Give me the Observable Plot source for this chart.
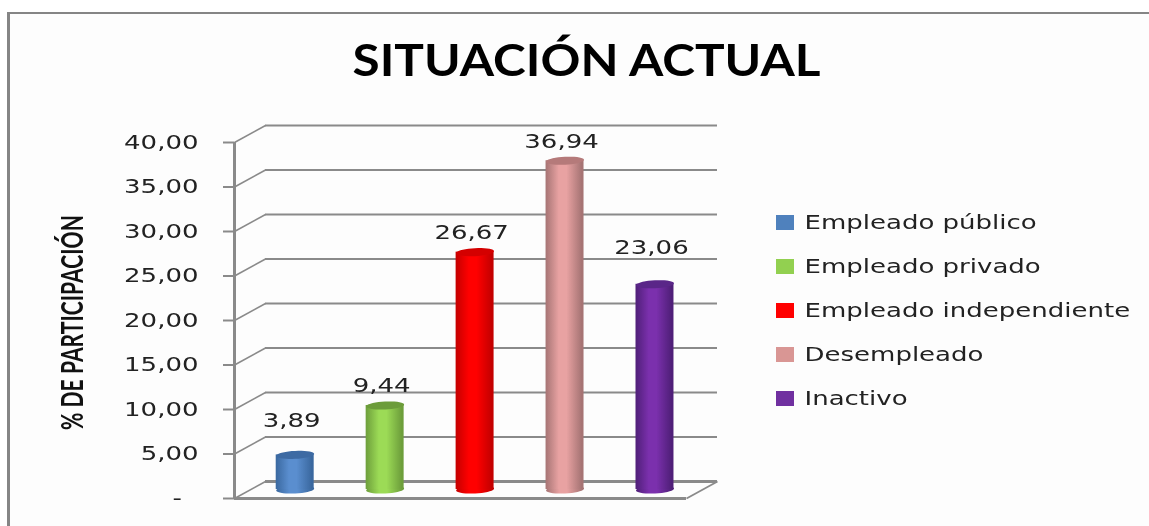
<!DOCTYPE html>
<html><head><meta charset="utf-8">
<script src="https://cdn.jsdelivr.net/npm/d3@7"></script>
<script src="https://cdn.jsdelivr.net/npm/@observablehq/plot@0.6"></script>
<style>
html,body{margin:0;padding:0;background:#fff;overflow:hidden}
#wrap{position:relative;width:1149px;height:526px;filter:blur(0.45px)}
#border{position:absolute;left:7px;top:12px;right:-5px;bottom:-5px;border-left:3px solid #858585;border-top:2px solid #858585;background:#fdfdfd}
#wrap svg{position:absolute;background:transparent}
</style></head><body><div id="wrap"><div id="border"></div></div>
<script>
const categories = ["Empleado público","Empleado privado","Empleado independiente","Desempleado","Inactivo"];
const values = [3.89,9.44,26.67,36.94,23.06];
const valueLabels = ["3,89","9,44","26,67","36,94","23,06"];
const labelLift = [3.8,2.2,2.2,2.2,4.1];
const yTicks = [0,5,10,15,20,25,30,35,40];
const legendColors = ["#4f81bd","#92d050","#ff0000","#d99694","#7030a0"];
const edgeColors = ["#3a689f","#6d9e3b","#c40000","#a67474","#4f1f78"];
const midColors = ["#5a8ecf","#9cdb56","#ff0000","#e8a2a2","#7b30ad"];
const capColors = ["#3d6aa3","#6c9c3a","#d40000","#b57a7a","#5a2688"];
const title = "SITUACIÓN ACTUAL";
const yLabel = "% DE PARTICIPACIÓN";

const rows = categories.map((c,i)=>({c,i,v:values[i],label:valueLabels[i],lift:labelLift[i]}));
const gradIds = categories.map((_,i)=>`url(#cyl${i})`);
const depthX = 31/90.4, depthY = 17/8.9;   // depth of the 3D box in scale units
const halfW = 0.21, step = 0.995;
const gray = "#8a8a8a";

// flattened, slightly tilted ellipse used as a dot symbol for cylinder ends
const ellipse = {draw(ctx,size){
  const rx=Math.sqrt(size/Math.PI), ry=4, t=-3*Math.PI/180;
  for(let k=0;k<=36;k++){
    const a=k/36*2*Math.PI, ex=rx*Math.cos(a), ey=ry*Math.sin(a);
    const px=ex*Math.cos(t)-ey*Math.sin(t), py=ex*Math.sin(t)+ey*Math.cos(t);
    k?ctx.lineTo(px,py):ctx.moveTo(px,py);
  }
  ctx.closePath();
}};
const defs = () => {
  const d=d3.create("svg:defs");
  categories.forEach((_,i)=>{
    const g=d.append("linearGradient").attr("id",`cyl${i}`).attr("x1",0).attr("x2",1).attr("y1",0).attr("y2",0);
    [[0,edgeColors[i]],[.35,midColors[i]],[.55,midColors[i]],[.95,edgeColors[i]],[1,edgeColors[i]]]
      .forEach(([o,c])=>g.append("stop").attr("offset",o).attr("stop-color",c));
  });
  return d.node();
};
const font='"DejaVu Sans"';
const cx = d => d.i*step+.5;
const chart = Plot.plot({
  width:1149,height:526,marginLeft:234,marginRight:463,marginTop:142,marginBottom:28,
  style:{background:"transparent"},
  x:{type:"linear",domain:[0,5],axis:null},
  y:{type:"linear",domain:[0,40],axis:null},
  color:{domain:categories,range:gradIds},
  marks:[
    defs,
    Plot.ruleY(yTicks,{y:d=>d,dx:31,dy:-17,stroke:gray,strokeWidth:d=>d===0?3:2}),
    Plot.link(yTicks,{x1:()=>0,y1:d=>d,x2:()=>depthX,y2:d=>d+depthY,stroke:gray,strokeWidth:1.6}),
    Plot.link([0],{x1:()=>5,y1:d=>d,x2:()=>5+depthX,y2:d=>d+depthY,stroke:gray,strokeWidth:1.8}),
    Plot.ruleX([0],{y1:0,y2:40,stroke:gray,strokeWidth:3}),
    Plot.ruleY([0],{stroke:gray,strokeWidth:3}),
    Plot.axisY({ticks:yTicks,tickSize:11,tickPadding:25,stroke:gray,strokeWidth:2,fontSize:20,fontFamily:font,fill:"#222",label:null,
      tickFormat:d=>d===0?"-\u00a0\u00a0":d3.format(".2f")(d).replace(".",",")}),
    Plot.dot(rows,{x:cx,y:0,symbol:ellipse,r:19,dx:15.5,dy:-9,fill:d=>d.c}),
    Plot.rect(rows,{x1:d=>cx(d)-halfW,x2:d=>cx(d)+halfW,y1:0,y2:d=>d.v,dx:15.5,dy:-9,fill:d=>d.c}),
    Plot.dot(rows,{x:cx,y:d=>d.v,symbol:ellipse,r:19,dx:15.5,dy:-9,fill:d=>capColors[d.i]}),
    Plot.text(rows,{x:cx,y:d=>d.v+d.lift,text:d=>d.label,dx:12,dy:-9,fontSize:20,fontFamily:font,fill:"#222"}),
    Plot.text([yLabel],{frameAnchor:"left",textAnchor:"middle",rotate:-90,dx:-161,dy:2,fontSize:30,fontWeight:"bold",fontFamily:"Lato",fill:"#111"}),
    Plot.text([title],{frameAnchor:"top",lineAnchor:"middle",dx:126,dy:-81,fontSize:44,fontWeight:"bold",fontFamily:"Lato",fill:"#000"})
  ]
});
const legend = Plot.plot({
  width:373,height:220,margin:0,
  style:{background:"transparent"},
  x:{type:"linear",domain:[0,373],range:[0,373],axis:null},
  y:{type:"band",domain:categories,paddingInner:0.66,paddingOuter:0.33,axis:null},
  color:{domain:categories,range:legendColors},
  marks:[
    Plot.barX(categories,{x1:()=>0,x2:()=>18,y:d=>d,fill:d=>d}),
    Plot.text(categories,{y:d=>d,frameAnchor:"left",textAnchor:"start",dx:28,fontSize:20,fontFamily:font,fill:"#222"})
  ]
});
const wrap=document.getElementById("wrap");
wrap.append(chart); wrap.append(legend);
chart.style.left="0";chart.style.top="0";
legend.style.left="776px";legend.style.top="200px";

// the reference is a horizontally stretched picture: widen / narrow text to match
function fit(t,len){t.setAttribute("lengthAdjust","spacingAndGlyphs");t.setAttribute("textLength",len);}
const WIDE=1.3;
for(const t of [...chart.querySelectorAll("text"),...legend.querySelectorAll("text")]){
  const s=t.textContent; const w=t.getComputedTextLength();
  if(s===title) fit(t,468);
  else if(s===yLabel) fit(t,215);
  else fit(t,w*WIDE);
}
</script></body></html>
